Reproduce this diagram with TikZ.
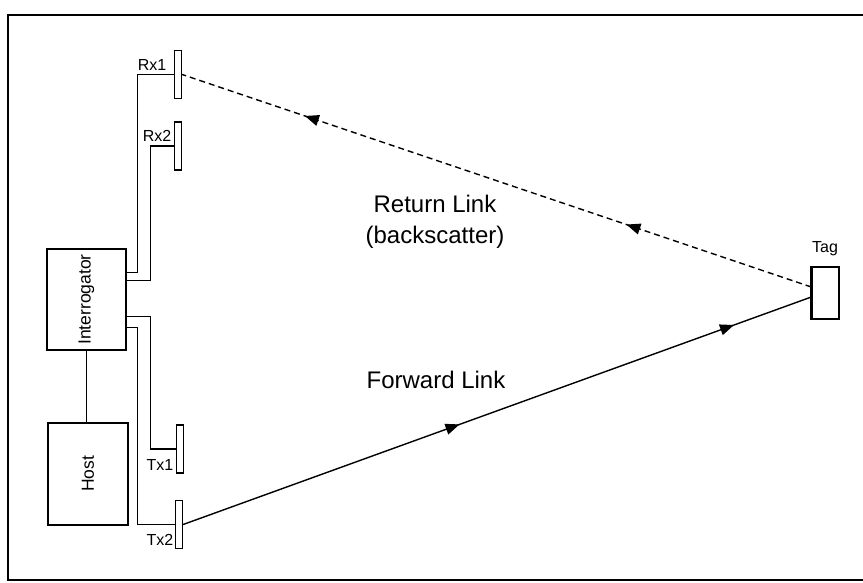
\documentclass[tikz,border=0pt]{standalone}
\usepackage{fontspec}
\setmainfont{Liberation Sans}
\usetikzlibrary{calc}
\usetikzlibrary{arrows.meta}
\usetikzlibrary{decorations.markings}

\tikzset{
  antenna/.style={draw, rectangle, line width=1.3pt, minimum width=7pt, minimum height=48pt, inner sep=0pt},
  unit/.style={draw, rectangle, line width=1.4pt, inner sep=0pt},
  feed/.style={line width=1.4pt},
  small/.style={font=\fontsize{16}{19}\selectfont, inner sep=0pt},
  big/.style={font=\fontsize{24}{31}\selectfont, align=center, inner sep=0pt},
  midarrows/.style 2 args={decoration={markings,
      mark=at position #1 with {\arrow{Triangle[length=14pt,width=11pt]}},
      mark=at position #2 with {\arrow{Triangle[length=14pt,width=11pt]}}},
    postaction={decorate}}
}

\begin{document}
\begin{tikzpicture}[x=1pt,y=-1pt]
            \clip (0,0) rectangle (863,583);
            % The frame
            \draw[line width=2pt] (8,15) rectangle (880,580);

            % Place the boxes
            \node[unit,minimum width=79pt,minimum height=101pt] (interr) at (86.5,299.5) {};
            \node[small,rotate=90,font=\fontsize{17.5}{20}\selectfont] (interrtext) at (interr.center) {Interrogator};
            \node[unit,minimum width=80pt,minimum height=102pt] (host) at (88,474) {};
            \node[small,rotate=90,font=\fontsize{17.5}{20}\selectfont] (hosttext) at (host.center) {Host};

            % Place the antennas
            \node[antenna] (rx1) at (178,74.5) {};
            \node[antenna] (rx2) at (178,146) {};
            \node[antenna] (tx1) at (180,449) {};
            \node[antenna] (tx2) at (179,524.5) {};
            \node[small] (rx1lbl) at (152,65) {Rx1};
            \node[small] (rx2lbl) at (157,136) {Rx2};
            \node[small] (tx1lbl) at (160,465) {Tx1};
            \node[small] (tx2lbl) at (160,540) {Tx2};

            % Place the tag
            \node[unit,line width=1.3pt,minimum width=27pt,minimum height=52pt] (tag) at (825.5,293) {};
            \node[small] (taglbl) at (825,249) {Tag};
            \coordinate (tagin) at ($(tag.west)+(0,-6)$);
            \coordinate (tagout) at ($(tag.west)+(0,4)$);
            \draw[line width=2.4pt] (tag.north west) -- (tag.south west);

            % The feed lines
            \coordinate (f1) at ($(interr.north east)+(0,24)$);
            \coordinate (f2) at ($(interr.north east)+(0,32)$);
            \coordinate (f3) at ($(interr.north east)+(0,68)$);
            \coordinate (f4) at ($(interr.north east)+(0,79)$);
            \draw[feed] (f1) -- ++(11,0) |- (rx1.west);
            \draw[feed] (f2) -- ++(24,0) |- (rx2.west);
            \draw[feed] (f3) -- ++(24,0) |- (tx1.west);
            \draw[feed] (f4) -- ++(11,0) |- (tx2.west);
            \draw[feed] (interr.south) -- (interr.south |- host.north);

            % The links!
            \draw[feed,dash pattern=on 6pt off 4pt,midarrows={0.294}{0.805}] (tagin) -- (rx1.east);
            \draw[feed,midarrows={0.44}{0.877}] (tx2.east) -- (tagout);
            \node[big] (ret) at (435,222) {Return Link\\(backscatter)};
            \node[big] (fwd) at (436,380) {Forward Link};
        \end{tikzpicture}
\end{document}
